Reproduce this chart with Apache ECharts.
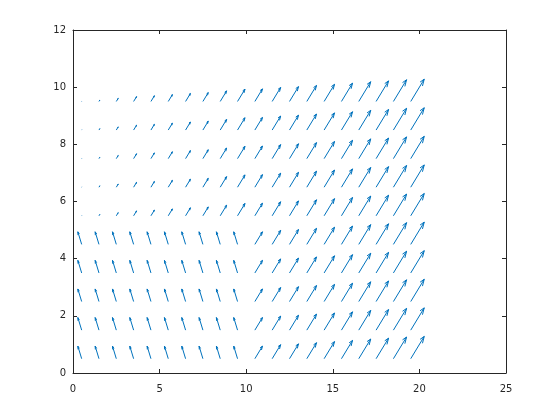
<!DOCTYPE html>
<html>
<head>
<meta charset="utf-8">
<script src="https://cdn.jsdelivr.net/npm/echarts@6/dist/echarts.min.js"></script>
<style>
html, body { margin: 0; background: #fff; }
#main { width: 560px; height: 420px; }
</style>
</head>
<body>
<div id="main"></div>
<script>
// grid of arrow bases
var xCols = [0.5, 1.5, 2.5, 3.5, 4.5, 5.5, 6.5, 7.5, 8.5, 9.5,
             10.5, 11.5, 12.5, 13.5, 14.5, 15.5, 16.5, 17.5, 18.5, 19.5]
var yRows = [0.5, 1.5, 2.5, 3.5, 4.5, 5.5, 6.5, 7.5, 8.5, 9.5]
// arrow size per column (u = v), upper half and right block
var colSize = [0.01, 0.05, 0.11, 0.17, 0.2, 0.24, 0.28, 0.31, 0.37, 0.43,
               0.44, 0.49, 0.52, 0.56, 0.6, 0.64, 0.69, 0.72, 0.76, 0.78]
// lower-left block (x < 10, y < 5): same arrow everywhere
var lowU = -0.22
var lowV = 0.44
var lowMaxX = 10
var lowMaxY = 5

var arrows = []
yRows.forEach(function (y) {
    xCols.forEach(function (x, i) {
        if (x < lowMaxX && y < lowMaxY) {
            arrows.push([x, y, lowU, lowV])
        } else {
            arrows.push([x, y, colSize[i], colSize[i]])
        }
    })
})

var lineColor = '#0072BD'
var axisColor = '#262626'

function renderArrow (params, api) {
    var x = api.value(0)
    var y = api.value(1)
    var u = api.value(2)
    var v = api.value(3)
    var tx = x + u
    var ty = y + v
    var a = 0.22
    var b = 0.4
    var p0 = api.coord([x, y])
    var p1 = api.coord([tx, ty])
    var h1 = api.coord([tx - a * (u + b * v), ty - a * (v - b * u)])
    var h2 = api.coord([tx - a * (u - b * v), ty - a * (v + b * u)])
    var style = { stroke: lineColor, lineWidth: 1, fill: null }
    return {
        type: 'group',
        children: [
            { type: 'polyline', shape: { points: [p0, p1] }, style: style },
            { type: 'polyline', shape: { points: [h1, p1, h2] }, style: style }
        ]
    }
}

function axisBase (pos, showLabel, margin) {
    return {
        type: 'value',
        position: pos,
        axisLine: { show: true, onZero: false, lineStyle: { color: axisColor, width: 1 } },
        axisTick: { show: true, inside: true, length: 4, lineStyle: { color: axisColor } },
        axisLabel: { show: showLabel, color: axisColor, fontFamily: 'DejaVu Sans', fontSize: 10, margin: margin },
        splitLine: { show: false }
    }
}

var xBottom = Object.assign(axisBase('bottom', true, 11), { min: 0, max: 25, interval: 5 })
var xTop = Object.assign(axisBase('top', false, 8), { min: 0, max: 25, interval: 5 })
var yLeft = Object.assign(axisBase('left', true, 7), { min: 0, max: 12, interval: 2 })
var yRight = Object.assign(axisBase('right', false, 8), { min: 0, max: 12, interval: 2 })

var myChart = echarts.init(document.getElementById('main'))
myChart.setOption({
    animation: false,
    backgroundColor: '#fff',
    grid: { left: 73, right: 54, top: 30, bottom: 47 },
    xAxis: [xBottom, xTop],
    yAxis: [yLeft, yRight],
    series: [
        {
            type: 'custom',
            renderItem: renderArrow,
            encode: { x: 0, y: 1 },
            data: arrows
        }
    ]
})
</script>
</body>
</html>
